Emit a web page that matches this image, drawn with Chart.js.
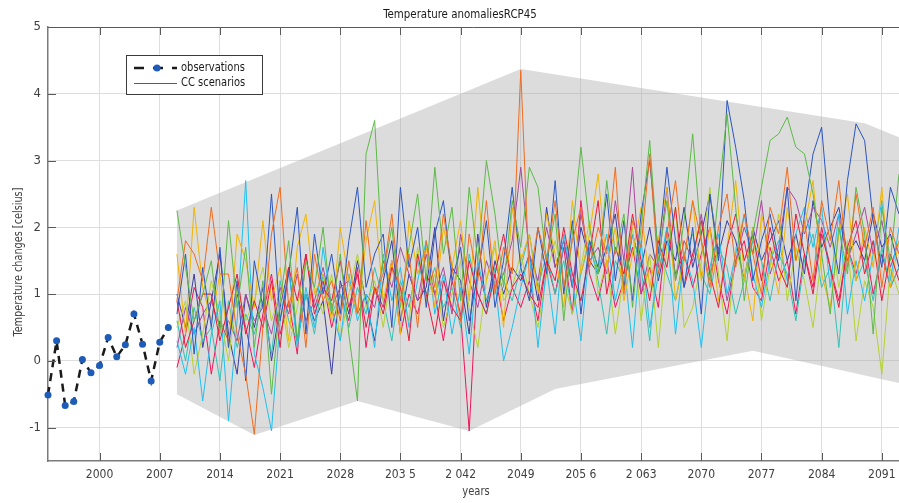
<!DOCTYPE html>
<html>
<head>
<meta charset="utf-8">
<title>Temperature anomaliesRCP45</title>
<script src="https://cdn.jsdelivr.net/npm/chart.js@4.4.1/dist/chart.umd.min.js"></script>
<style>
  html, body { margin: 0; padding: 0; background: #fff; }
  #wrap { width: 899px; height: 503px; }
</style>
</head>
<body>
<div id="wrap"><canvas id="myChart" width="899" height="503"></canvas></div>
<script>
var obsYears = [1994, 1995, 1996, 1997, 1998, 1999, 2000, 2001, 2002, 2003, 2004, 2005, 2006, 2007, 2008];
var obsValues = [-0.51, 0.30, -0.67, -0.61, 0.02, -0.18, -0.07, 0.35, 0.06, 0.24, 0.70, 0.25, -0.30, 0.28, 0.50];

var scenStart = 2009;
var scenOrange = [0.9, 1.8, 1.6, 1.2, 2.3, 1.3, 1.3, 0.4, -0.2, -1.1,
  0.5, 1.9, 2.6, 0.8, 1.4, 0.2, 1.6, 0.9, 1.2, 0.6,
  1.5, 0.7, 2.1, 1.0, 1.3, 2.2, 0.9, 1.6, 0.5, 1.8,
  1.1, 2.2, 1.4, 0.6, 1.9, 1.2, 2.4, 1.0, 1.7, 1.3,
  4.35, 1.2, 2.0, 1.5, 2.4, 1.1, 1.8, 2.3, 1.4, 2.0,
  1.6, 2.9, 1.0, 2.1, 1.7, 3.1, 1.3, 1.9, 2.7, 1.5,
  2.4, 1.8, 1.1, 2.0, 2.5, 1.4, 2.2, 1.6, 1.0, 2.3,
  1.9, 2.9, 1.5, 2.1, 1.2, 2.4, 1.8, 2.7, 1.4, 2.5,
  1.7, 2.3, 1.1, 2.0, 1.6];
var scenGreen = [2.25, 1.4, 0.6, 1.0, 1.5, 0.4, 2.1, 0.8, 1.7, 0.2,
  1.2, -0.5, 0.9, 1.8, 0.3, 1.5, 1.1, 2.0, 0.7, 1.6,
  0.4, -0.6, 3.1, 3.6, 1.3, 2.0, 0.8, 1.7, 2.5, 1.2,
  2.9, 1.6, 2.3, 0.9, 2.6, 1.5, 3.0, 2.2, 1.1, 2.4,
  1.7, 2.9, 2.6, 1.5, 2.2, 0.6, 1.9, 3.2, 2.0, 1.3,
  2.7, 1.6, 2.2, 0.8, 2.0, 3.3, 1.5, 2.4, 1.2, 2.1,
  3.4, 1.8, 1.2, 2.5, 3.7, 2.3, 0.9, 1.9, 2.6, 3.3,
  3.4, 3.65, 3.2, 3.1, 2.5, 1.6, 0.7, 2.0, 1.3, 2.6,
  1.9, 0.4, 2.3, 1.5, 2.8];
var scenBlue = [0.7, 1.6, 0.1, 1.4, 0.5, 1.7, 0.2, 1.2, -0.3, 1.5,
  0.8, 2.5, 0.6, 1.3, 2.3, 0.4, 1.9, 1.0, 1.6, 0.7,
  1.8, 2.6, 1.1, 1.6, 1.9, 0.5, 2.6, 1.4, 2.0, 0.8,
  1.9, 2.4, 1.2, 1.7, 0.6, 1.3, 2.1, 0.8, 1.5, 2.6,
  1.4, 0.9, 2.0, 1.3, 2.7, 1.0, 2.1, 0.7, 1.8, 1.4,
  2.5, 1.2, 2.1, 0.9, 2.2, 3.0, 1.6, 2.9, 1.8, 1.1,
  2.0, 0.7, 2.5, 1.5, 3.9, 3.2, 2.4, 1.2, 1.8, 2.2,
  1.5, 2.6, 0.9, 2.2, 3.1, 3.5, 2.0, 1.3, 2.7, 3.55,
  3.3, 2.1, 1.4, 2.6, 2.2];
var scenCrimson = [0.9, 0.2, 0.6, 1.0, 1.0, 0.3, 0.8, 1.3, 0.4, 0.9,
  0.5, 1.2, 0.2, 1.4, 0.9, 1.6, 0.7, 1.1, 0.9, 1.5,
  0.8, 1.3, 0.5, 1.1, 0.7, 1.4, 1.1, 0.3, 1.6, 1.0,
  0.4, 1.2, 0.8, 0.6, 1.5, 1.0, 0.7, 1.3, 1.9, 1.1,
  1.3, 1.0, 0.8, 1.5, 1.2, 2.0, 1.3, 0.9, 1.6, 2.4,
  1.0, 1.7, 1.3, 2.2, 1.5, 0.9, 1.8, 1.4, 2.3, 1.1,
  1.6, 2.1, 1.3, 0.8, 1.7, 2.2, 1.5, 1.9, 1.2, 2.0,
  1.4, 1.1, 2.2, 1.6, 1.0, 1.9, 1.4, 0.8, 1.7, 2.1,
  1.3, 1.8, 0.9, 1.6, 1.2];
var scenGold = [1.6, 0.4, 2.3, 1.1, 0.6, 1.3, 0.2, 1.9, 1.5, 0.8,
  2.1, 0.9, 1.4, 0.3, 1.7, 2.2, 1.0, 1.3, 0.6, 2.0,
  1.2, 0.7, 1.8, 2.4, 0.9, 1.5, 0.4, 2.1, 1.3, 1.7,
  0.8, 2.0, 1.4, 2.1, 0.9, 2.6, 1.2, 1.8, 0.5, 2.3,
  1.5, 1.9, 1.0, 2.2, 1.6, 0.8, 2.4, 1.3, 1.9, 2.8,
  1.4, 2.0, 0.9, 1.6, 2.3, 1.1, 1.8, 2.6, 0.9, 1.5,
  2.4, 1.2, 2.0, 0.9, 1.7, 2.7, 1.3, 0.6, 2.2, 1.6,
  1.0, 2.3, 1.5, 2.0, 2.7, 1.3, 0.8, 1.9, 2.5, 1.2,
  2.0, 1.4, 2.6, 1.1, 1.8];
var scenCyan = [0.3, -0.2, 0.5, -0.6, 0.4, 0.9, -0.9, 0.6, 2.7, 0.1,
  -0.4, -1.05, 0.6, 1.4, 0.2, 1.1, 0.5, 1.7, 0.8, 0.3,
  1.3, 0.6, 1.0, 0.2, 1.6, 0.9, 1.4, 0.5, 1.2, 1.8,
  0.7, 1.3, 0.4, 1.1, 0.1, 1.5, 0.9, 1.2, 0.0, 0.5,
  1.1, 1.6, 0.2, 1.4, 0.4, 1.9, 1.2, 0.3, 1.7, 1.3,
  1.9, 0.9, 1.5, 0.2, 1.8, 0.5, 1.3, 2.0, 0.4, 1.6,
  1.2, 0.2, 1.4, 1.9, 1.0, 1.6, 2.2, 1.3, 0.8, 1.5,
  1.8, 1.2, 1.9, 2.3, 1.7, 2.3, 1.1, 2.2, 0.7, 1.5,
  0.9, 1.6, 2.4, 1.2, 2.0];
var scenLime = [0.5, 0.9, -0.2, 0.4, 1.2, 0.7, 0.0, 1.1, 0.6, 0.9,
  1.4, 0.6, 1.0, 0.2, 0.8, 1.5, 1.1, 0.7, 1.3, 0.3,
  1.0, 1.6, 0.8, 1.2, 0.5, 1.4, 1.1, 0.6, 1.7, 0.9,
  1.3, 0.5, 1.0, 1.5, 0.8, 0.2, 1.2, 1.7, 0.9, 1.1,
  1.6, 1.0, 0.5, 1.3, 1.8, 1.2, 0.7, 1.4, 2.1, 1.0,
  1.5, 0.4, 1.3, 2.0, 0.6, 1.6, 0.2, 1.7, 2.3, 0.5,
  0.8, 1.5, 2.6, 1.3, 0.3, 1.7, 1.2, 2.0, 0.6, 1.4,
  2.2, 0.9, 1.7, 1.2, 0.5, 1.6, 2.0, 1.1, 1.8, 0.3,
  1.2, 0.8, -0.2, 1.4, 1.0];
var scenPurple = [0.2, 0.8, 0.4, 0.7, 0.9, 0.5, 0.6, 0.3, 1.0, 0.6,
  0.8, 0.4, 1.1, 0.7, 1.3, 0.6, 0.9, 1.4, 0.8, 1.1,
  1.2, 0.7, 1.0, 0.8, 1.5, 1.1, 1.7, 1.3, 0.9, 1.6,
  1.0, 1.4, 0.7, 1.9, 1.2, 0.8, 1.5, 1.1, 1.3, 1.8,
  2.9, 1.6, 1.2, 2.0, 1.4, 1.8, 1.1, 2.2, 1.5, 1.7,
  1.3, 2.4, 1.5, 2.9, 1.0, 1.6, 1.4, 2.6, 1.2, 1.8,
  1.5, 2.2, 1.3, 1.7, 0.9, 1.5, 2.0, 1.6, 2.4, 1.3,
  1.7, 2.6, 2.4, 1.9, 2.3, 2.1, 1.7, 2.2, 1.5, 1.9,
  2.3, 1.6, 2.1, 1.4, 1.8];
var scenTeal = [0.6, 0.0, 0.8, 0.3, 0.5, -0.3, 0.9, 0.2, 0.7, 0.4,
  0.9, 0.1, 1.2, 0.6, 0.3, 1.0, 0.4, 1.3, 0.7, 1.0,
  0.5, 1.1, 0.7, 1.4, 0.9, 0.3, 1.2, 0.8, 1.5, 1.0,
  1.4, 0.8, 1.1, 0.5, 1.6, 1.0, 0.7, 1.4, 1.2, 0.9,
  1.4, 1.9, 1.1, 1.6, 1.0, 1.5, 0.7, 1.3, 1.8, 1.2,
  0.4, 1.5, 1.2, 1.9, 1.4, 0.3, 1.7, 1.3, 0.9, 1.6,
  1.9, 1.3, 1.0, 1.7, 1.4, 0.7, 1.2, 1.8, 1.5, 0.9,
  1.6, 1.3, 0.6, 1.5, 1.9, 1.1, 1.4, 0.2, 1.7, 1.2,
  1.5, 0.9, 1.7, 1.1, 1.4];
var scenNavy = [1.0, 0.5, 1.3, 0.2, 0.9, 1.6, 0.4, -0.2, 1.0, 0.5,
  1.1, 0.0, 0.8, 1.4, 0.3, 1.0, 0.6, 0.9, -0.2, 1.2,
  0.7, 1.5, 0.9, 0.3, 1.2, 1.8, 0.6, 1.3, 0.9, 1.1,
  2.0, 0.6, 1.4, 1.2, 0.4, 1.9, 0.8, 1.5, 1.0, 1.4,
  1.2, 1.6, 0.9, 2.3, 1.4, 1.8, 1.1, 2.0, 1.5, 1.3,
  1.7, 2.2, 1.1, 1.9, 1.4, 2.0, 1.2, 1.8, 1.5, 2.3,
  1.4, 1.9, 2.5, 1.6, 2.1, 1.8, 1.2, 2.0, 1.5, 1.8,
  2.1, 1.5, 1.9, 1.3, 2.4, 1.7, 2.0, 2.3, 1.6, 1.8,
  1.5, 2.2, 1.7, 1.9, 1.4];
var scenPink = [-0.1, 0.4, 1.1, 0.8, -0.2, 0.6, 0.3, 1.0, 0.5, -0.1,
  0.7, 1.3, 0.4, 0.9, 0.1, 1.6, 0.8, 1.2, 0.5, 1.0,
  0.6, 1.4, 0.2, 1.1, 0.8, 1.5, 0.4, 1.0, 0.7, 1.3,
  1.0, 0.3, 1.2, 0.7, -1.05, 1.4, 0.9, 1.3, 0.6, 1.1,
  0.8, 1.2, 0.6, 1.5, 1.0, 1.7, 0.7, 2.4, 1.3, 0.9,
  1.5, 0.8, 1.2, 1.7, 1.0, 1.4, 0.8, 2.0, 1.3, 1.6,
  1.1, 1.6, 2.0, 1.2, 0.7, 1.5, 1.8, 1.1, 0.9, 1.7,
  1.2, 1.5, 0.7, 1.6, 1.1, 2.0, 1.4, 0.9, 1.7, 1.3,
  1.8, 1.0, 1.6, 1.1, 1.4];

var scenSeries = [scenOrange, scenGreen, scenBlue, scenCrimson, scenGold, scenCyan, scenLime, scenPurple, scenTeal, scenNavy, scenPink];
var scenColors = ['#f26b1d', '#5cb946', '#2a55c0', '#e8193c', '#f0b400', '#1ec0f0', '#b4d22d', '#a8489c', '#34c0b4', '#3a3ca0', '#f0145a'];

var envTopYears = [2009, 2049, 2089, 2093];
var envTopValues = [2.25, 4.37, 3.56, 3.35];
var envBottomYears = [2009, 2018, 2030, 2043, 2053, 2076, 2093];
var envBottomValues = [-0.5, -1.11, -0.6, -1.05, -0.42, 0.15, -0.33];

var xTickYears = [2000, 2007, 2014, 2021, 2028, 2035, 2042, 2049, 2056, 2063, 2070, 2077, 2084, 2091];
var xTickLabels = ['2000', '2007', '2014', '2021', '2028', '203 5', '2 042', '2049', '205 6', '2 063', '2070', '2077', '2084', '2091'];
var yTicks = [-1, 0, 1, 2, 3, 4, 5];

var fontFam = "'Liberation Sans Narrow', 'DejaVu Sans Condensed', 'Roboto Condensed', 'Liberation Sans', sans-serif";

function toPoints(xs, ys) {
  var out = [];
  for (var i = 0; i < xs.length; i++) out.push({ x: xs[i], y: ys[i] });
  return out;
}

function narrowText(ctx, text, x, y, sx) {
  ctx.save();
  ctx.translate(x, y);
  ctx.scale(sx, 1);
  ctx.fillText(text, 0, 0);
  ctx.restore();
}

var envPoly = toPoints(envTopYears, envTopValues);
for (var k = envBottomYears.length - 1; k >= 0; k--) {
  envPoly.push({ x: envBottomYears[k], y: envBottomValues[k] });
}

var datasets = [];
datasets.push({
  label: 'range',
  data: envPoly,
  fill: 'shape',
  backgroundColor: 'rgba(167,167,167,0.4)',
  borderColor: 'transparent',
  borderWidth: 0,
  pointRadius: 0,
  order: 100
});
scenSeries.forEach(function (s, i) {
  var pts = [];
  for (var j = 0; j < s.length; j++) pts.push({ x: scenStart + j, y: s[j] });
  datasets.push({
    label: 'CC scenarios',
    data: pts,
    borderColor: scenColors[i],
    borderWidth: 1,
    pointRadius: 0,
    fill: false,
    order: 10 + i
  });
});
datasets.push({
  label: 'observations',
  data: toPoints(obsYears, obsValues),
  borderColor: '#1a1a1a',
  borderWidth: 2.5,
  borderDash: [8, 6],
  pointRadius: 3.5,
  pointBackgroundColor: '#1f5cb8',
  pointBorderColor: '#1f5cb8',
  pointBorderWidth: 0,
  fill: false,
  clip: false,
  order: 0
});

var deco = {
  id: 'deco',
  afterDraw: function (chart) {
    var ctx = chart.ctx, a = chart.chartArea, xs = chart.scales.x, ys = chart.scales.y;
    ctx.save();
    ctx.strokeStyle = '#5a5a5a';
    ctx.lineWidth = 1;
    ctx.beginPath();
    ctx.moveTo(a.left, a.top + 0.5);
    ctx.lineTo(a.right, a.top + 0.5);
    xTickYears.forEach(function (yr) {
      var px = Math.round(xs.getPixelForValue(yr)) + 0.5;
      ctx.moveTo(px, a.top);
      ctx.lineTo(px, a.top + 8);
      ctx.moveTo(px, a.bottom);
      ctx.lineTo(px, a.bottom - 8);
    });
    yTicks.forEach(function (v) {
      var py = Math.round(ys.getPixelForValue(v)) + 0.5;
      ctx.moveTo(a.left, py);
      ctx.lineTo(a.left + 8, py);
    });
    ctx.stroke();

    // titles
    ctx.fillStyle = '#1a1a1a';
    ctx.font = '12px ' + fontFam;
    ctx.textAlign = 'center';
    ctx.textBaseline = 'middle';
    narrowText(ctx, 'Temperature anomaliesRCP45', 460, 15, 0.95);
    ctx.fillStyle = '#404040';
    narrowText(ctx, 'years', 476, 492, 0.92);
    ctx.save();
    ctx.translate(19, 262);
    ctx.rotate(-Math.PI / 2);
    narrowText(ctx, 'Temperature changes [celsius]', 0, 0, 0.9);
    ctx.restore();

    // legend
    ctx.fillStyle = '#ffffff';
    ctx.fillRect(126.5, 55.5, 136, 39);
    ctx.strokeStyle = '#3a3a3a';
    ctx.lineWidth = 1;
    ctx.strokeRect(126.5, 55.5, 136, 39);
    ctx.strokeStyle = '#1a1a1a';
    ctx.lineWidth = 2.5;
    ctx.setLineDash([10, 9]);
    ctx.beginPath();
    ctx.moveTo(134, 68);
    ctx.lineTo(177, 68);
    ctx.stroke();
    ctx.setLineDash([]);
    ctx.fillStyle = '#1f5cb8';
    ctx.beginPath();
    ctx.arc(157, 68, 3.5, 0, Math.PI * 2);
    ctx.fill();
    ctx.strokeStyle = scenColors[3];
    ctx.lineWidth = 1;
    ctx.beginPath();
    ctx.moveTo(134, 83.5);
    ctx.lineTo(177, 83.5);
    ctx.stroke();
    ctx.fillStyle = '#1a1a1a';
    ctx.font = '12px ' + fontFam;
    ctx.textAlign = 'left';
    narrowText(ctx, 'observations', 181, 68, 0.92);
    narrowText(ctx, 'CC scenarios', 181, 83, 0.92);
    ctx.restore();
  }
};

var ctx = document.getElementById('myChart').getContext('2d');
var myChart = new Chart(ctx, {
  type: 'line',
  data: { datasets: datasets },
  plugins: [deco],
  options: {
    responsive: false,
    animation: false,
    devicePixelRatio: 1,
    events: [],
    layout: { autoPadding: false, padding: { top: 27, left: 0, right: 0, bottom: 0 } },
    plugins: {
      legend: { display: false },
      tooltip: { enabled: false },
      title: { display: false }
    },
    scales: {
      x: {
        type: 'linear',
        min: 1994,
        max: 2093,
        afterFit: function (scale) {
          scale.height = 42;
          scale.paddingLeft = 0;
          scale.paddingRight = 0;
        },
        afterBuildTicks: function (scale) {
          scale.ticks = xTickYears.map(function (v) { return { value: v }; });
        },
        ticks: {
          autoSkip: false,
          maxRotation: 0,
          padding: 7,
          color: '#404040',
          font: { family: fontFam, size: 12 },
          callback: function (value, index) { return xTickLabels[index]; }
        },
        grid: { color: '#dedede', drawTicks: false },
        border: { color: '#7a7a7a', width: 1.5 }
      },
      y: {
        min: -1.5,
        max: 5,
        afterFit: function (scale) {
          scale.width = 48;
          scale.paddingTop = 0;
          scale.paddingBottom = 0;
        },
        afterBuildTicks: function (scale) {
          scale.ticks = yTicks.map(function (v) { return { value: v }; });
        },
        ticks: {
          padding: 7,
          color: '#404040',
          font: { family: fontFam, size: 13 }
        },
        grid: { color: '#dedede', drawTicks: false },
        border: { color: '#7a7a7a', width: 1.5 }
      }
    }
  }
});
</script>
</body>
</html>
